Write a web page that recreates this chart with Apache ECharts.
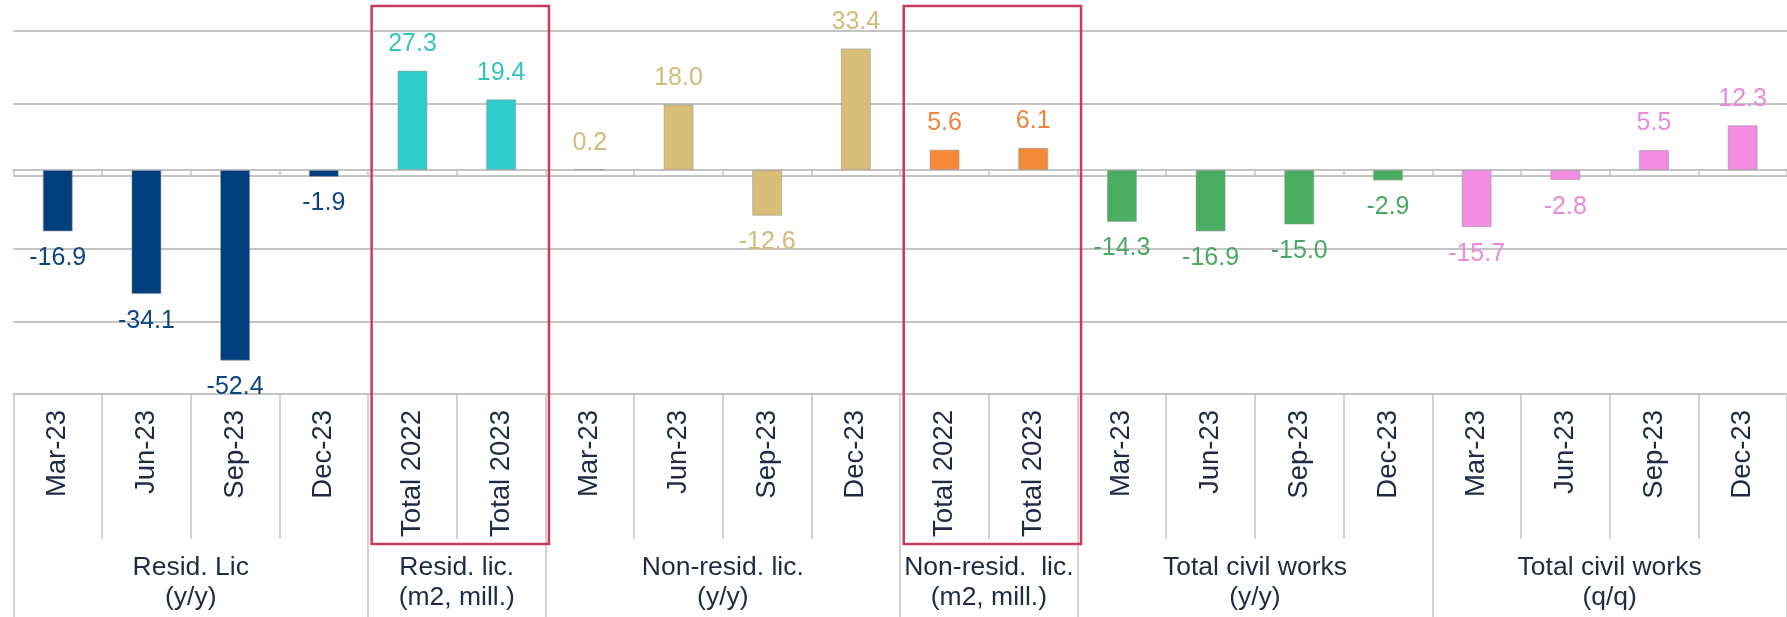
<!DOCTYPE html>
<html>
<head>
<meta charset="utf-8">
<script src="https://cdn.jsdelivr.net/npm/echarts@6/dist/echarts.min.js"></script>
<style>
  html, body { margin: 0; padding: 0; background: #ffffff; }
  #chart { width: 1787px; height: 617px; }
</style>
</head>
<body>
<div id="chart"></div>
<script>
// ---------- data ----------
const residLic      = [-16.9, -34.1, -52.4, -1.9];
const residLicM2    = [27.3, 19.4];
const nonResidLic   = [0.2, 18.0, -12.6, 33.4];
const nonResidLicM2 = [5.6, 6.1];
const civilYY       = [-14.3, -16.9, -15.0, -2.9];
const civilQQ       = [-15.7, -2.8, 5.5, 12.3];

const quarterLabels = ['Mar-23', 'Jun-23', 'Sep-23', 'Dec-23'];
const totalLabels   = ['Total 2022', 'Total 2023'];

const groupNames = [
  'Resid. Lic\n(y/y)',
  'Resid. lic.\n(m2, mill.)',
  'Non-resid. lic.\n(y/y)',
  'Non-resid.  lic.\n(m2, mill.)',
  'Total civil works\n(y/y)',
  'Total civil works\n(q/q)'
];
const groupValues = [residLic, residLicM2, nonResidLic, nonResidLicM2, civilYY, civilQQ];
const groupCats   = [quarterLabels, totalLabels, quarterLabels, totalLabels, quarterLabels, quarterLabels];
const groupColors = ['#033f7f', '#2ecdcb', '#d8be76', '#f5893a', '#49ae62', '#f38ce2'];
const labelColors = ['#0d4583', '#33c4c2', '#d2ba78', '#e98640', '#4aa865', '#ea88d9'];
const boxedGroups = [1, 3];

// ---------- build ----------
const categories = [];
const barData = [];
const boundaries = [0];
const centers = [];
groupValues.forEach((vals, g) => {
  const start = boundaries[boundaries.length - 1];
  vals.forEach((v, i) => {
    categories.push(groupCats[g][i]);
    barData.push({
      value: v,
      itemStyle: { color: groupColors[g] },
      label: { color: labelColors[g], position: v >= 0 ? 'top' : 'bottom' }
    });
  });
  boundaries.push(start + vals.length);
  centers.push(start + vals.length / 2);
});
const nCat = categories.length;

const FONT = '"Liberation Sans", Arial, sans-serif';
const GRID = '#c4c4c4';
const TEXT = '#1f2a44';

const chart = echarts.init(document.getElementById('chart'), null, { renderer: 'canvas' });

chart.setOption({
  animation: false,
  backgroundColor: '#ffffff',
  grid: { left: 13.4, top: 0, width: 1778, height: 394, containLabel: false },
  xAxis: [
    { // data axis on zero
      type: 'category', data: categories, gridIndex: 0, position: 'bottom',
      axisLine: { show: true, onZero: true, onZeroAxisIndex: 0, lineStyle: { color: GRID, width: 2 } },
      axisTick: { show: true, length: 7, lineStyle: { color: GRID, width: 1.5 } },
      axisLabel: { show: false },
      splitLine: { show: false }
    },
    { // category labels at bottom
      type: 'category', data: categories, gridIndex: 0, position: 'bottom',
      axisLine: { show: true, onZero: false, lineStyle: { color: GRID, width: 2 } },
      axisTick: { show: true, length: 145, lineStyle: { color: GRID, width: 1.5 } },
      axisLabel: { show: true, rotate: 90, margin: 16, fontSize: 27.5, color: TEXT, fontFamily: FONT },
      splitLine: { show: false }
    },
    { // group labels
      type: 'value', min: 0, max: nCat, gridIndex: 0, position: 'bottom',
      axisLine: { show: false, onZero: false },
      axisTick: { show: true, length: 224, customValues: boundaries, lineStyle: { color: GRID, width: 1.5 } },
      axisLabel: {
        show: true, customValues: centers, margin: 159, fontSize: 26.5, lineHeight: 30,
        color: TEXT, fontFamily: FONT,
        formatter: (v) => { const i = centers.indexOf(v); return i >= 0 ? groupNames[i] : ''; }
      },
      splitLine: { show: false }
    }
  ],
  yAxis: [
    { // bar scale
      type: 'value', min: -61.54, max: 46.70, gridIndex: 0,
      axisLine: { show: false }, axisTick: { show: false }, axisLabel: { show: false },
      splitLine: { show: false }
    },
    { // gridlines
      type: 'value', min: -60, max: 48.54, interval: 20, gridIndex: 0, position: 'left',
      axisLine: { show: false }, axisTick: { show: false }, axisLabel: { show: false },
      splitLine: { show: true, showMaxLine: false, lineStyle: { color: GRID, width: 2 } }
    }
  ],
  series: [{
    type: 'bar',
    xAxisIndex: 0, yAxisIndex: 0,
    data: barData,
    barWidth: 30,
    itemStyle: { borderColor: 'rgba(150,150,150,0.55)', borderWidth: 1 },
    label: {
      show: true, fontSize: 25, fontFamily: FONT, distance: 14,
      formatter: (p) => p.value.toFixed(1)
    },
    z: 3
  }]
});

// red highlight boxes around the m2 groups
const graphics = boxedGroups.map((g) => {
  const x0 = chart.convertToPixel({ xAxisIndex: 2 }, boundaries[g]) + 3.5;
  const x1 = chart.convertToPixel({ xAxisIndex: 2 }, boundaries[g + 1]) + 3.5;
  return {
    type: 'rect', z: 100,
    shape: { x: x0, y: 6, width: x1 - x0, height: 538 },
    style: { fill: 'none', stroke: '#c73b5c', lineWidth: 2.5 }
  };
});
chart.setOption({ graphic: graphics });
</script>
</body>
</html>
